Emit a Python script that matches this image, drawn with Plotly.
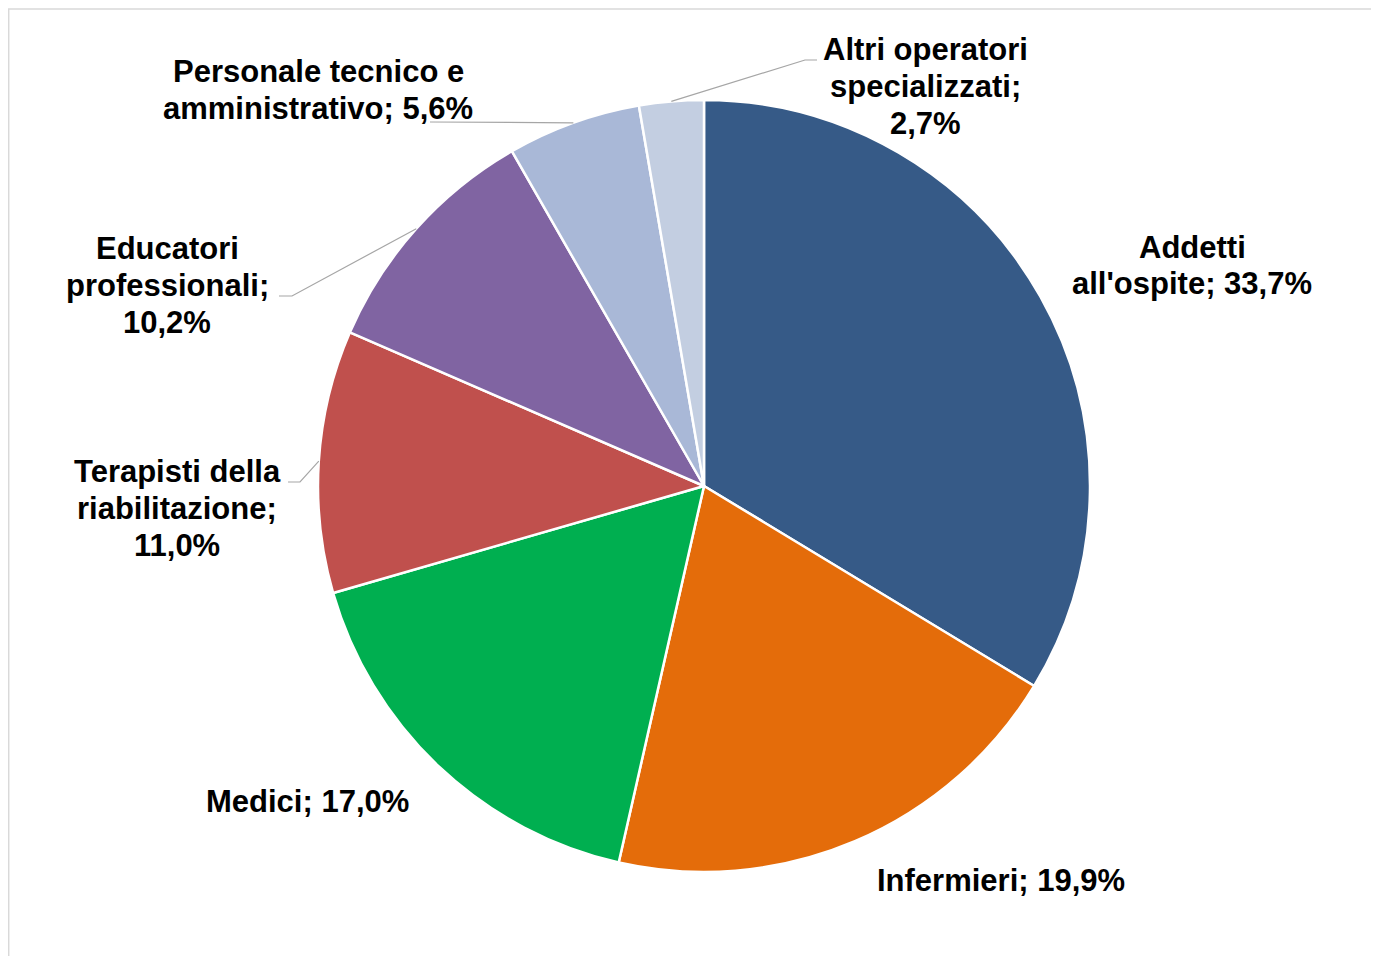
import math
import plotly.graph_objects as go

categories = ["Addetti all'ospite", "Infermieri", "Medici", "Terapisti della riabilitazione",
              "Educatori professionali", "Personale tecnico e amministrativo",
              "Altri operatori specializzati"]
values = [33.7, 19.9, 17.0, 11.0, 10.2, 5.6, 2.7]
label_lines = [["Addetti", "all'ospite; 33,7%"],
               ["Infermieri; 19,9%"],
               ["Medici; 17,0%"],
               ["Terapisti della", "riabilitazione;", "11,0%"],
               ["Educatori", "professionali;", "10,2%"],
               ["Personale tecnico e", "amministrativo; 5,6%"],
               ["Altri operatori", "specializzati;", "2,7%"]]
colors = ["#365A87", "#E46C0A", "#00AF50", "#C0504D", "#8064A2", "#A9B8D7", "#C3CEE1"]

W, H = 1379, 956
OFF = 8  # page offset of the figure (body margin)
CX, CY, R = 704, 486, 386

# label centers (page pixels): x, y of first line
label_pos = [(1192, 247), (1001, 880), (307, 801), (177, 472), (167, 249), (318, 72), (926, 50)]
LINE_GAP = 36.7
# leader line elbows (page pixels)
leader_pts = [None, None, None, [(300, 482), (288, 482)], [(292, 296), (279, 296)],
              [(430, 122)], [(805, 60), (817, 60)]]


def px(x):
    return (x - OFF) / W


def py(y):
    return 1 - (y - OFF) / H


fig = go.Figure(go.Pie(
    labels=categories, values=values, sort=False, direction="clockwise", rotation=0,
    marker=dict(colors=colors, line=dict(color="white", width=2.5)),
    textinfo="none", hoverinfo="label+percent", showlegend=False,
    domain=dict(x=[px(CX - R), px(CX + R)], y=[py(CY + R), py(CY - R)]),
))

total = sum(values)
cum = 0
shapes = []
for i, v in enumerate(values):
    mid = (cum + v / 2) / total * 2 * math.pi
    cum += v
    if leader_pts[i] is None:
        continue
    sx, sy = CX + R * math.sin(mid), CY - R * math.cos(mid)
    pts = [(sx, sy)] + leader_pts[i]
    path = "M " + " L ".join(f"{px(x):.5f},{py(y):.5f}" for x, y in pts)
    shapes.append(dict(type="path", xref="paper", yref="paper", path=path,
                       line=dict(color="#A6A6A6", width=1.2)))

shapes.append(dict(type="rect", xref="paper", yref="paper", x0=0.0005, y0=-0.02, x1=1.02, y1=py(9),
                   line=dict(color="#D9D9D9", width=1.5), fillcolor="rgba(0,0,0,0)", layer="below"))

annotations = []
for lines, (x, y) in zip(label_lines, label_pos):
    for k, t in enumerate(lines):
        annotations.append(dict(text=f"<b>{t}</b>", x=px(x), y=py(y + k * LINE_GAP),
                                xref="paper", yref="paper",
                                xanchor="center", yanchor="middle", align="center", showarrow=False,
                                font=dict(family="Liberation Sans, Arial, sans-serif", size=31,
                                          color="black")))

fig.update_layout(width=W, height=H, margin=dict(l=0, r=0, t=0, b=0),
                  paper_bgcolor="white", plot_bgcolor="white",
                  shapes=shapes, annotations=annotations)

fig.write_html("out.html")
